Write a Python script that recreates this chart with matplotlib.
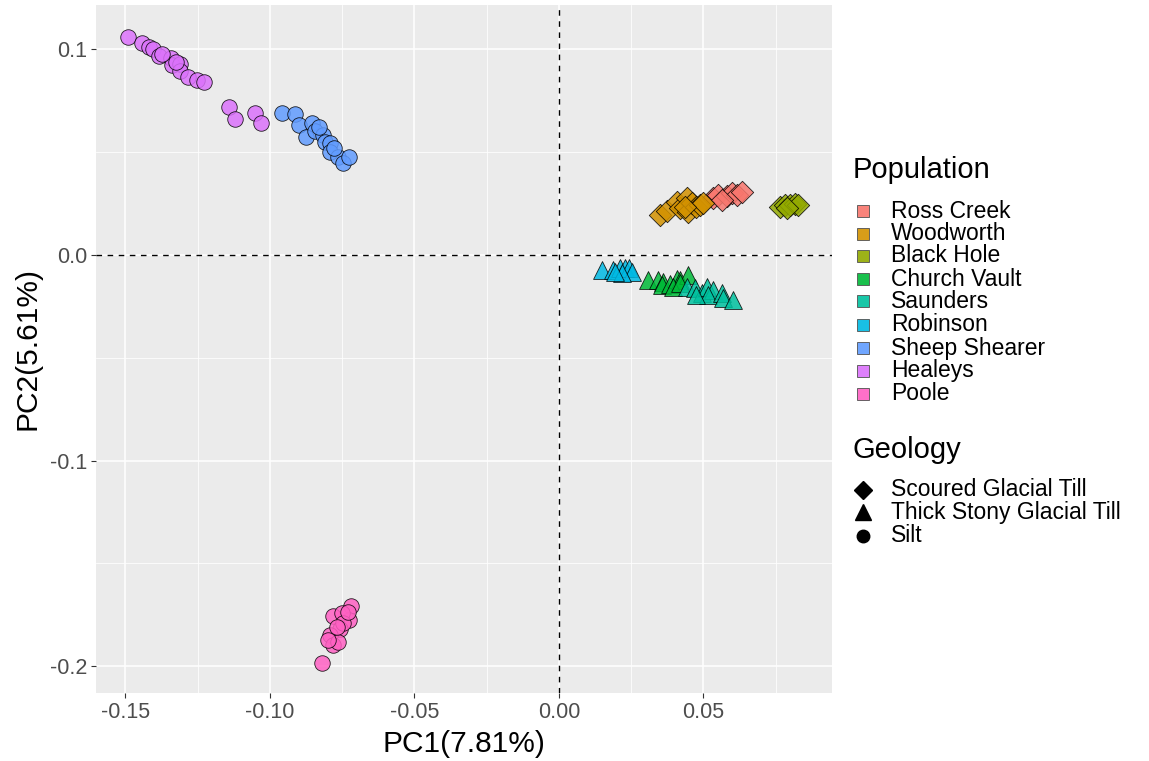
import matplotlib
matplotlib.use("Agg")
import matplotlib.pyplot as plt
from matplotlib.lines import Line2D
from matplotlib.patches import Rectangle
import numpy as np

plt.rcParams['font.family'] = ['Liberation Sans', 'DejaVu Sans']

populations = ["Ross Creek", "Woodworth", "Black Hole", "Church Vault", "Saunders",
               "Robinson", "Sheep Shearer", "Healeys", "Poole"]
colors = ["#F8766D", "#D39200", "#93AA00", "#00BA38", "#00C19F",
          "#00B9E3", "#619CFF", "#DB72FB", "#FF61C3"]
geology_labels = ["Scoured Glacial Till", "Thick Stony Glacial Till", "Silt"]
geology_of_pop = ["Scoured Glacial Till", "Scoured Glacial Till", "Scoured Glacial Till",
                  "Thick Stony Glacial Till", "Thick Stony Glacial Till", "Thick Stony Glacial Till",
                  "Silt", "Silt", "Silt"]
markers = {"Scoured Glacial Till": "D", "Thick Stony Glacial Till": "^", "Silt": "o"}
msizes = {"Scoured Glacial Till": 130, "Thick Stony Glacial Till": 165, "Silt": 125}

pc1 = {
    "Ross Creek": [0.0534, 0.0551, 0.0580, 0.0598, 0.0615, 0.0632, 0.0563],
    "Woodworth": [0.0349, 0.0373, 0.0407, 0.0419, 0.0442, 0.0447, 0.0459, 0.0476, 0.0488, 0.0499, 0.0436],
    "Black Hole": [0.0765, 0.0782, 0.0799, 0.0817, 0.0828, 0.0788],
    "Church Vault": [0.0309, 0.0344, 0.0361, 0.0355, 0.0384, 0.0407, 0.0419, 0.0447, 0.0396, 0.0419],
    "Saunders": [0.0442, 0.0471, 0.0494, 0.0511, 0.0534, 0.0517, 0.0563, 0.0569, 0.0603, 0.0476],
    "Robinson": [0.0148, 0.0188, 0.0211, 0.0228, 0.0243, 0.0252, 0.0220, 0.0195],
    "Sheep Shearer": [-0.0960, -0.0913, -0.0899, -0.0875, -0.0856, -0.0844, -0.0815, -0.0810,
                      -0.0792, -0.0792, -0.0764, -0.0746, -0.0726, -0.0830, -0.0780],
    "Healeys": [-0.1490, -0.1444, -0.1418, -0.1404, -0.1383, -0.1344, -0.1340, -0.1311, -0.1311,
                -0.1283, -0.1254, -0.1228, -0.1141, -0.1121, -0.1052, -0.1032, -0.1375, -0.1325],
    "Poole": [-0.0821, -0.0781, -0.0720, -0.0726, -0.0758, -0.0752, -0.0792, -0.0781, -0.0764,
              -0.0798, -0.0746, -0.0769, -0.0729],
}
pc2 = {
    "Ross Creek": [0.0276, 0.0292, 0.0284, 0.0300, 0.0292, 0.0308, 0.0267],
    "Woodworth": [0.0194, 0.0215, 0.0259, 0.0227, 0.0276, 0.0211, 0.0251, 0.0235, 0.0243, 0.0251, 0.0235],
    "Black Hole": [0.0235, 0.0243, 0.0243, 0.0248, 0.0243, 0.0227],
    "Church Vault": [-0.0122, -0.0122, -0.0130, -0.0146, -0.0141, -0.0118, -0.0122, -0.0097, -0.0154, -0.0138],
    "Saunders": [-0.0154, -0.0162, -0.0186, -0.0154, -0.0170, -0.0194, -0.0186, -0.0211, -0.0219, -0.0194],
    "Robinson": [-0.0073, -0.0073, -0.0065, -0.0065, -0.0065, -0.0081, -0.0090, -0.0085],
    "Sheep Shearer": [0.0689, 0.0685, 0.0632, 0.0575, 0.0640, 0.0600, 0.0583, 0.0551,
                      0.0543, 0.0502, 0.0478, 0.0446, 0.0478, 0.0620, 0.0520],
    "Healeys": [0.1058, 0.1029, 0.1010, 0.1000, 0.0968, 0.0956, 0.0924, 0.0928, 0.0896,
                0.0867, 0.0851, 0.0843, 0.0718, 0.0661, 0.0689, 0.0643, 0.0975, 0.0940],
    "Poole": [-0.1985, -0.1758, -0.1706, -0.1774, -0.1820, -0.1742, -0.1847, -0.1896, -0.1880,
              -0.1872, -0.1790, -0.1807, -0.1734],
}

xticks = [-0.15, -0.10, -0.05, 0.00, 0.05]
xticklabels = ["-0.15", "-0.10", "-0.05", "0.00", "0.05"]
yticks = [-0.2, -0.1, 0.0, 0.1]
yticklabels = ["-0.2", "-0.1", "0.0", "0.1"]

W, H = 1149, 761
fig = plt.figure(figsize=(W / 100, H / 100), dpi=100)
ax = fig.add_axes([96 / W, 1 - 693 / H, (832 - 96) / W, (693 - 5) / H])
ax.set_facecolor("#EBEBEB")
for s in ax.spines.values():
    s.set_visible(False)

ax.set_xlim(-0.1602, 0.0945)
ax.set_ylim(-0.2130, 0.1215)
ax.set_xticks(xticks)
ax.set_xticklabels(xticklabels)
ax.set_yticks(yticks)
ax.set_yticklabels(yticklabels)
ax.set_xticks([-0.125, -0.075, -0.025, 0.025, 0.075], minor=True)
ax.set_yticks([-0.15, -0.05, 0.05], minor=True)
ax.grid(which="major", color="white", linewidth=1.1)
ax.grid(which="minor", color="white", linewidth=0.55)
ax.set_axisbelow(True)
ax.tick_params(which="major", length=3.5, width=0.8, color="#333333",
               labelsize=15.5, labelcolor="#4D4D4D", pad=3)
ax.tick_params(which="minor", length=0)

ax.axvline(0, color="black", linestyle=(0, (4, 4)), linewidth=1.0, zorder=1.5)
ax.axhline(0, color="black", linestyle=(0, (4, 4)), linewidth=1.0, zorder=1.5)

for pop, col, geo in zip(populations, colors, geology_of_pop):
    ax.scatter(pc1[pop], pc2[pop], s=msizes[geo], marker=markers[geo], c=col,
               edgecolors="black", linewidths=0.6, alpha=0.85, zorder=3)

ax.set_xlabel("PC1(7.81%)", fontsize=21.5, labelpad=5)
ax.set_ylabel("PC2(5.61%)", fontsize=21.5, labelpad=6)

# Legend: Population
fig.text(853 / W, 1 - 170 / H, "Population", fontsize=21, va="center", ha="left")
row_y = [211, 234, 256, 279, 301, 325, 348, 371, 394]
for pop, col, yy in zip(populations, colors, row_y):
    fig.patches.append(Rectangle(((857) / W, 1 - (yy + 6) / H), 12 / W, 12 / H,
                                 transform=fig.transFigure, facecolor=col,
                                 edgecolor="#555555", linewidth=0.7, alpha=0.9))
    fig.text(891 / W, 1 - yy / H, pop, fontsize=16.5, va="center", ha="left")

# Legend: Geology
fig.text(853 / W, 1 - 450 / H, "Geology", fontsize=21, va="center", ha="left")
geo_y = [490, 512, 536]
for geo, yy in zip(geology_labels, geo_y):
    fig.add_artist(Line2D([863 / W], [1 - yy / H], transform=fig.transFigure,
                          marker=markers[geo], markersize={"D": 9, "^": 12, "o": 9}[markers[geo]],
                          color="black", linestyle="none"))
    fig.text(891 / W, 1 - yy / H, geo, fontsize=16.5, va="center", ha="left")

fig.savefig("out.png", dpi=100, facecolor="white")
